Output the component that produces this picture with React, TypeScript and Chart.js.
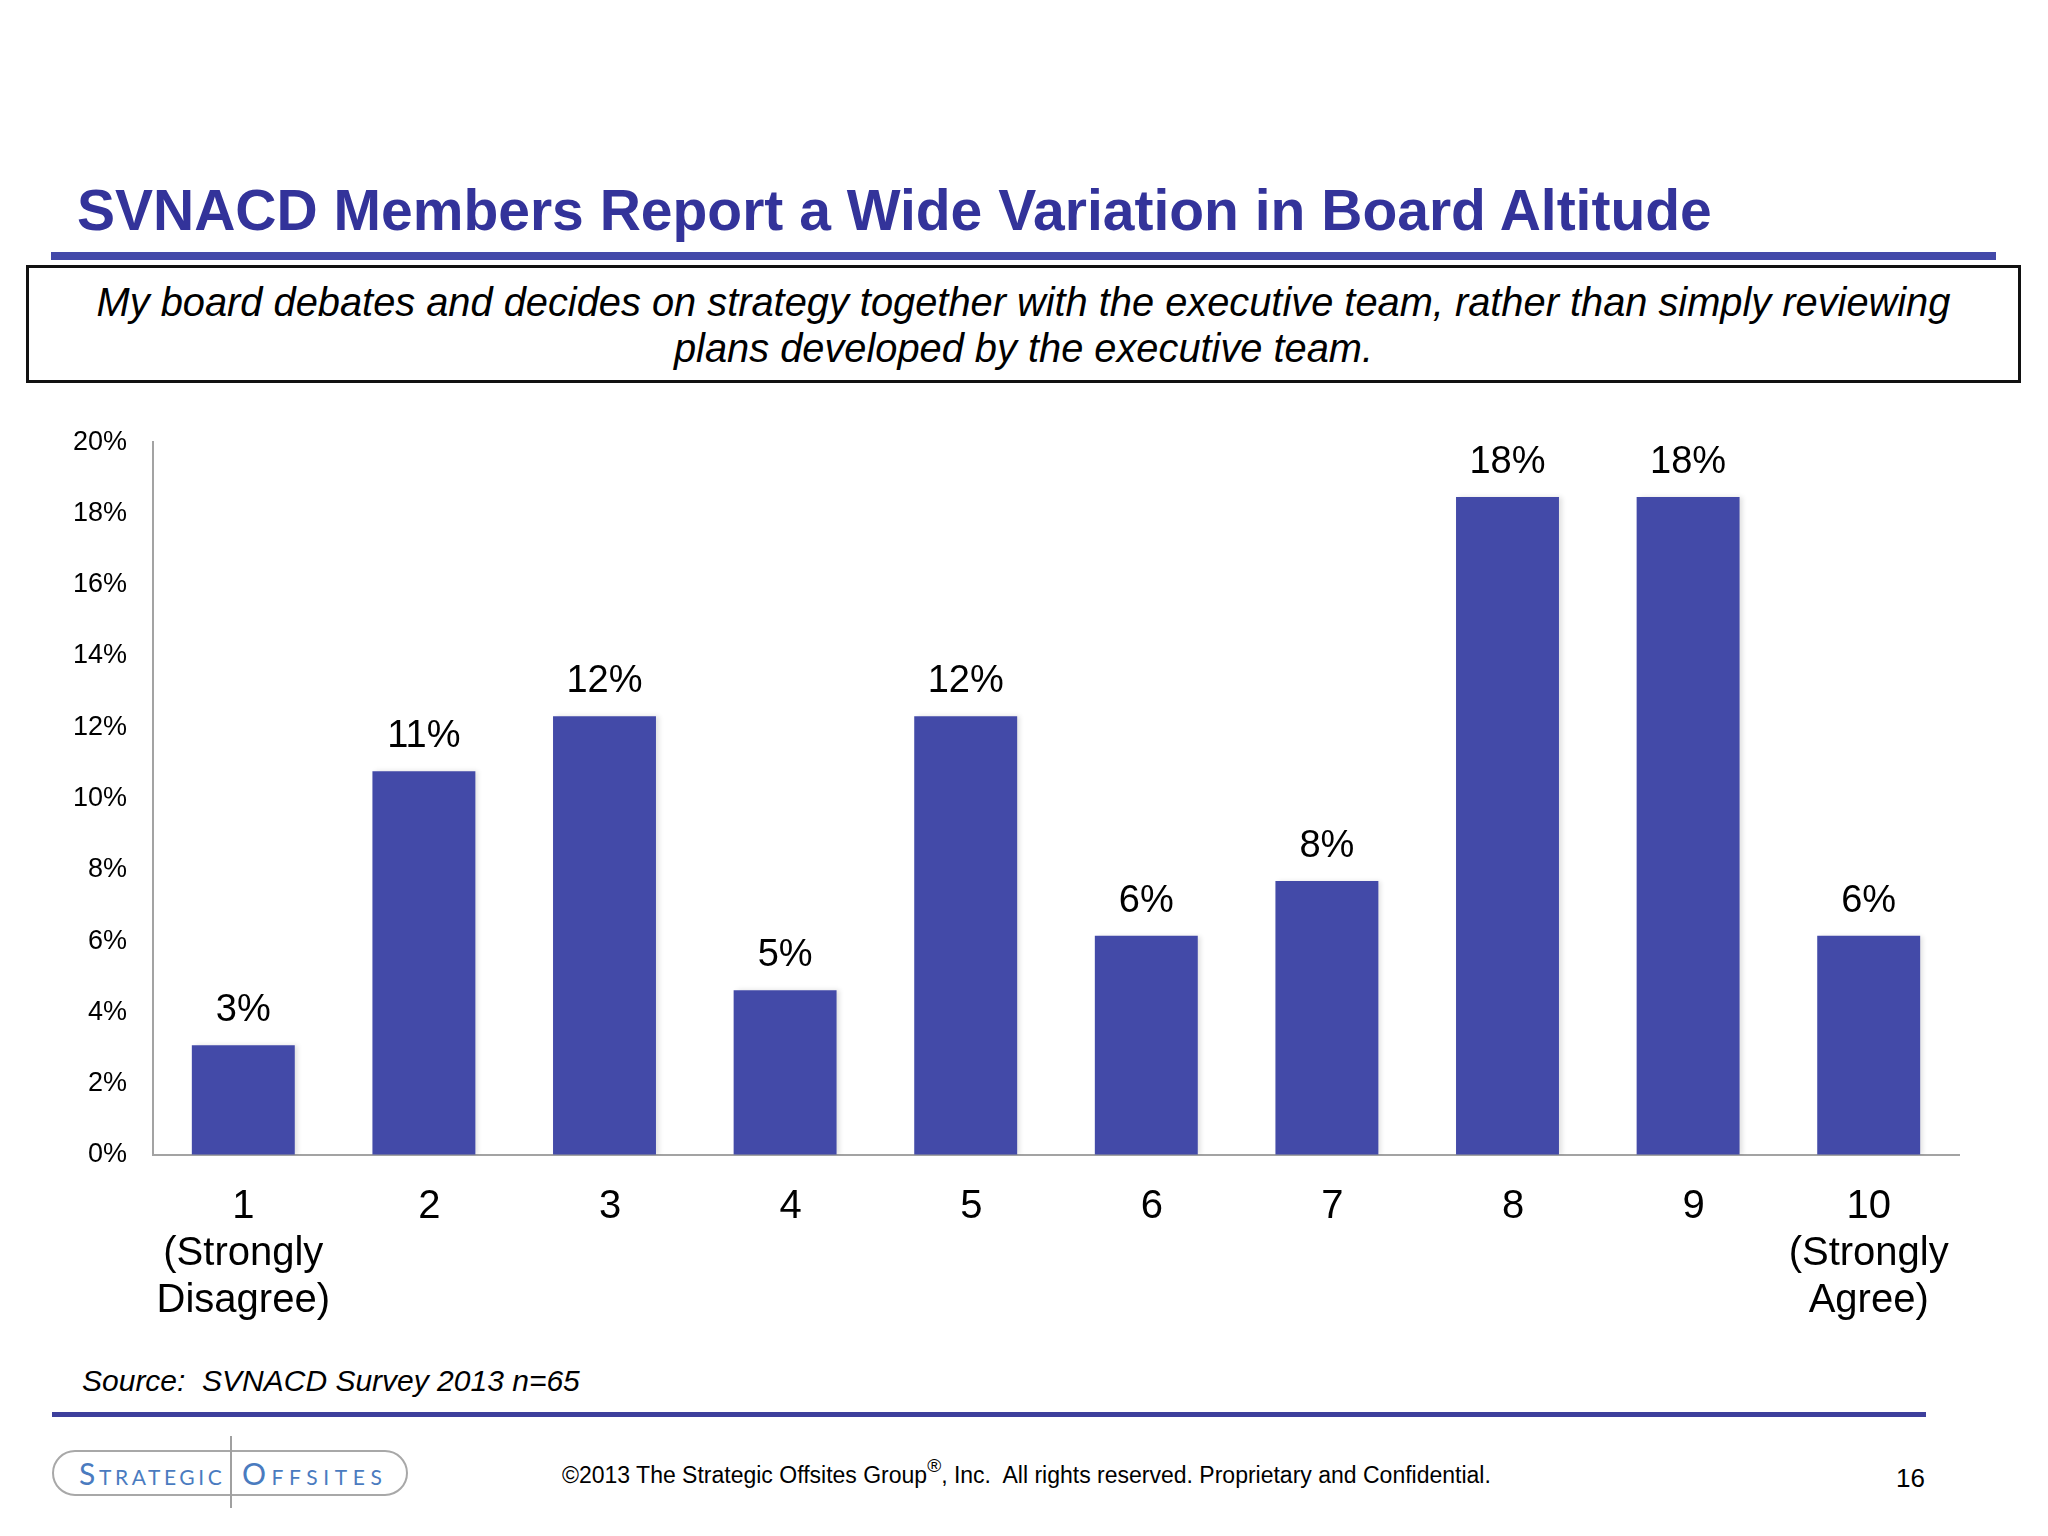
import React, { useEffect, useRef } from "react";
import { Chart, registerables } from "chart.js";

Chart.register(...registerables);

const categories: (string | string[])[] = [
  ["1", "(Strongly", "Disagree)"],
  "2",
  "3",
  "4",
  "5",
  "6",
  "7",
  "8",
  "9",
  ["10", "(Strongly", "Agree)"],
];
const values = [3.08, 10.77, 12.31, 4.62, 12.31, 6.15, 7.69, 18.46, 18.46, 6.15];
const valueLabels = ["3%", "11%", "12%", "5%", "12%", "6%", "8%", "18%", "18%", "6%"];
const yMin = 0;
const yMax = 20;
const yStep = 2;

const titleText = "SVNACD Members Report a Wide Variation in Board Altitude";
const questionLines = [
  "My board debates and decides on strategy together with the executive team, rather than simply reviewing",
  "plans developed by the executive team.",
];
const sourceText = "Source:  SVNACD Survey 2013 n=65";
const pageNumber = "16";

const FONT = "'Liberation Sans', Arial, Helvetica, sans-serif";
const BAR_COLOR = "#434aa8";
const TITLE_COLOR = "#33339a";
const RULE_COLOR = "#4349a9";

const CANVAS_TOP = 400;
const CANVAS_W = 2048;
const CANVAS_H = 960;

const valueLabelPlugin = {
  id: "valueLabels",
  afterDatasetsDraw(chart: any) {
    const ctx = chart.ctx;
    const meta = chart.getDatasetMeta(0);
    ctx.save();
    ctx.fillStyle = "#000";
    ctx.font = `38px ${FONT}`;
    ctx.textAlign = "center";
    ctx.textBaseline = "alphabetic";
    meta.data.forEach((el: any, i: number) => {
      ctx.fillText(valueLabels[i], el.x, el.y - 24);
    });
    ctx.restore();
  },
};

const shadowPlugin = {
  id: "barShadow",
  beforeDatasetsDraw(chart: any) {
    const ctx = chart.ctx;
    ctx.save();
    ctx.shadowColor = "rgba(0,0,0,0.12)";
    ctx.shadowBlur = 5;
    ctx.shadowOffsetX = 3;
    ctx.shadowOffsetY = 0;
  },
  afterDatasetsDraw(chart: any) {
    chart.ctx.restore();
  },
};

function BarChart() {
  const ref = useRef<HTMLCanvasElement | null>(null);
  useEffect(() => {
    if (!ref.current) return;
    const chart = new Chart(ref.current, {
      type: "bar",
      data: {
        labels: categories,
        datasets: [
          {
            data: values,
            backgroundColor: BAR_COLOR,
            borderWidth: 0,
            barPercentage: 0.57,
            categoryPercentage: 1,
          },
        ],
      },
      options: {
        responsive: false,
        maintainAspectRatio: false,
        animation: false,
        devicePixelRatio: 1,
        layout: { padding: { top: 40, right: 89, left: 0, bottom: 0 } },
        plugins: {
          legend: { display: false },
          tooltip: { enabled: false },
          title: { display: false },
        },
        scales: {
          x: {
            grid: { display: true, drawOnChartArea: false, drawTicks: false },
            border: { display: true, color: "#a3a3a3", width: 2 },
            ticks: {
              color: "#000",
              font: { family: FONT, size: 40, lineHeight: 1.175 },
              padding: 28,
              maxRotation: 0,
              autoSkip: false,
              callback: function (this: any, _v: any, i: number) {
                const c = categories[i];
                return Array.isArray(c) ? c : " " + c;
              },
            },
            afterFit: (s: any) => {
              s.height = 205;
            },
          },
          y: {
            min: yMin,
            max: yMax,
            grid: { display: true, drawOnChartArea: false, drawTicks: false },
            border: { display: true, color: "#a3a3a3", width: 2 },
            ticks: {
              stepSize: yStep,
              color: "#000",
              font: { family: FONT, size: 27 },
              padding: 26,
              callback: (v: any) => `${v}%`,
            },
            afterFit: (s: any) => {
              s.width = 153;
            },
          },
        },
      },
      plugins: [shadowPlugin, valueLabelPlugin],
    });
    return () => chart.destroy();
  }, []);
  return (
    <canvas
      ref={ref}
      width={CANVAS_W}
      height={CANVAS_H}
      style={{ position: "absolute", left: 0, top: CANVAS_TOP, width: CANVAS_W, height: CANVAS_H }}
    />
  );
}

export default function App() {
  const abs = (s: React.CSSProperties): React.CSSProperties => ({ position: "absolute", margin: 0, ...s });
  return (
    <div
      style={{
        position: "absolute",
        left: 0,
        top: 0,
        width: 2048,
        height: 1536,
        overflow: "hidden",
        background: "#fff",
        fontFamily: FONT,
      }}
    >
      <div
        style={abs({
          left: 77,
          top: 182,
          fontSize: 57,
          lineHeight: "57px",
          fontWeight: 700,
          color: TITLE_COLOR,
          whiteSpace: "nowrap",
        })}
      >
        {titleText}
      </div>
      <div style={abs({ left: 51, top: 252, width: 1945, height: 8, background: RULE_COLOR })} />
      <div
        style={abs({
          left: 26,
          top: 265,
          width: 1995,
          height: 118,
          border: "3px solid #111",
          boxSizing: "border-box",
        })}
      />
      <div
        style={abs({
          left: 26,
          top: 279,
          width: 1995,
          textAlign: "center",
          fontSize: 39.8,
          lineHeight: "46px",
          fontStyle: "italic",
          color: "#000",
        })}
      >
        {questionLines.map((l, i) => (
          <div key={i} style={{ whiteSpace: "nowrap" }}>
            {l}
          </div>
        ))}
      </div>

      <BarChart />

      <div
        style={abs({
          left: 82,
          top: 1366,
          fontSize: 30,
          lineHeight: "30px",
          fontStyle: "italic",
          color: "#000",
          whiteSpace: "pre",
        })}
      >
        {sourceText}
      </div>
      <div style={abs({ left: 52, top: 1412, width: 1874, height: 5, background: "#3d3f9c" })} />

      {/* logo */}
      <div
        style={abs({
          left: 52,
          top: 1450,
          width: 356,
          height: 46,
          border: "2px solid #a8a8a8",
          borderRadius: 23,
          boxSizing: "border-box",
        })}
      />
      <div style={abs({ left: 230, top: 1436, width: 2, height: 72, background: "#a0a0a0" })} />
      <div
        style={abs({
          left: 79,
          top: 1459,
          fontSize: 30,
          lineHeight: "29px",
          fontFamily: "Lato, 'Open Sans', sans-serif",
          fontVariant: "small-caps",
          letterSpacing: 3.6,
          color: "#4a7bbf",
          whiteSpace: "nowrap",
        })}
      >
        Strategic
      </div>
      <div
        style={abs({
          left: 242,
          top: 1459,
          fontSize: 30,
          lineHeight: "29px",
          fontFamily: "Lato, 'Open Sans', sans-serif",
          fontVariant: "small-caps",
          letterSpacing: 5.6,
          color: "#4a7bbf",
          whiteSpace: "nowrap",
        })}
      >
        Offsites
      </div>

      <div
        style={abs({
          left: 562,
          top: 1464,
          fontSize: 23,
          lineHeight: "23px",
          color: "#000",
          whiteSpace: "pre",
        })}
      >
        ©2013 The Strategic Offsites Group
        <span style={{ fontSize: 19, position: "relative", top: -11 }}>®</span>, Inc.  All rights reserved. Proprietary and Confidential.
      </div>
      <div
        style={abs({
          left: 1896,
          top: 1465,
          fontSize: 26,
          lineHeight: "26px",
          color: "#000",
        })}
      >
        {pageNumber}
      </div>
    </div>
  );
}
